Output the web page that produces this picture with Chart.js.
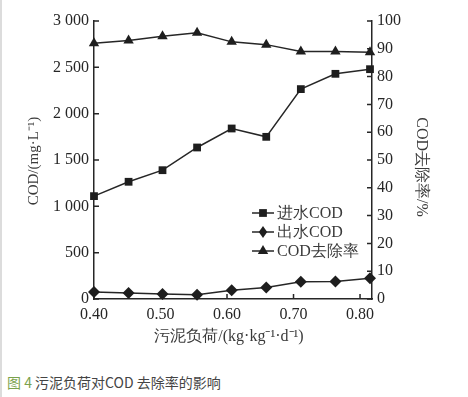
<!DOCTYPE html>
<html>
<head>
<meta charset="utf-8">
<script src="https://cdn.jsdelivr.net/npm/chart.js@4.4.1/dist/chart.umd.min.js"></script>
<style>
    html, body { margin: 0; padding: 0; background: #fff; }
    #page { position: relative; width: 468px; height: 397px; overflow: hidden; }
    #edge { position: absolute; left: 0; top: 0; width: 2px; height: 397px; background: #dcdcdc; }
    #wrap { position: absolute; left: 0; top: 0; width: 468px; height: 360px; }
    #caption {
        position: absolute; left: 7px; top: 372px;
        font: 14px "Noto Sans CJK SC", "Noto Sans", sans-serif; line-height: 20px;
        color: #444; white-space: nowrap;
    }
    #caption .fig { color: #7ba24c; }
</style>
</head>
<body>
<div id="page">
    <div id="wrap"><canvas id="codChart" width="468" height="360"></canvas></div>
    <div id="edge"></div>
    <div id="caption"><span class="fig">图 4</span> 污泥负荷对COD 去除率的影响</div>
</div>
<script>
// ---- данные ----
const sludgeLoad = [0.40, 0.452, 0.503, 0.555, 0.607, 0.659, 0.711, 0.763, 0.815];
const influentCOD = [1110, 1265, 1390, 1635, 1840, 1750, 2265, 2430, 2480];
const effluentCOD = [75, 65, 55, 45, 95, 125, 185, 190, 225];
const removalRate = [92, 93, 94.5, 95.8, 92.5, 91.5, 89, 89, 88.8];

const xTicks = [0.40, 0.50, 0.60, 0.70, 0.80];
const codTicks = [0, 500, 1000, 1500, 2000, 2500, 3000];
const rateTicks = [0, 10, 20, 30, 40, 50, 60, 70, 80, 90, 100];

const seriesNames = ['进水COD', '出水COD', 'COD去除率'];
const xTitle = '污泥负荷/(kg·kg⁻¹·d⁻¹)';
const yTitle = 'COD/(mg·L⁻¹)';
const y1Title = 'COD去除率/%';

const INK = '#262626';
const SOFT = '#3a3a3a';
const SERIF = '"Liberation Serif", "Times New Roman", serif';
const tickFont = { family: SERIF, size: 16 };

function toPoints(ys) {
    return ys.map((v, i) => ({ x: sludgeLoad[i], y: v }));
}

// маркер как у Chart.js, для легенды
function drawMarker(ctx, style, x, y, r) {
    ctx.beginPath();
    if (style === 'rect') {
        const s = r * Math.SQRT1_2;
        ctx.rect(x - s, y - s, 2 * s, 2 * s);
    } else if (style === 'rectRot') {
        ctx.moveTo(x, y - r);
        ctx.lineTo(x + r * 0.7, y);
        ctx.lineTo(x, y + r);
        ctx.lineTo(x - r * 0.7, y);
    } else {
        ctx.moveTo(x, y - r);
        ctx.lineTo(x + r * 0.866, y + r * 0.5);
        ctx.lineTo(x - r * 0.866, y + r * 0.5);
    }
    ctx.closePath();
    ctx.fill();
}

// внутренние засечки на осях
const innerTicks = {
    id: 'innerTicks',
    beforeDatasetsDraw(chart) {
        const { ctx, chartArea, scales } = chart;
        const len = 5;
        ctx.save();
        ctx.strokeStyle = INK;
        ctx.lineWidth = 1.5;
        ctx.beginPath();
        codTicks.forEach(v => {
            const y = scales.y.getPixelForValue(v);
            ctx.moveTo(chartArea.left, y);
            ctx.lineTo(chartArea.left + len, y);
        });
        rateTicks.forEach(v => {
            const y = scales.y1.getPixelForValue(v);
            ctx.moveTo(chartArea.right, y);
            ctx.lineTo(chartArea.right - len, y);
        });
        xTicks.forEach(v => {
            const x = scales.x.getPixelForValue(v);
            ctx.moveTo(x, chartArea.bottom);
            ctx.lineTo(x, chartArea.bottom - len);
        });
        ctx.stroke();
        ctx.restore();
    }
};

// подписи осей
const axisTitles = {
    id: 'axisTitles',
    afterDraw(chart) {
        const { ctx } = chart;
        ctx.save();
        ctx.fillStyle = SOFT;
        ctx.textAlign = 'center';
        ctx.textBaseline = 'middle';
        ctx.font = '15px ' + SERIF;
        ctx.translate(34, 161);
        ctx.rotate(-Math.PI / 2);
        ctx.fillText(yTitle, 0, 0);
        ctx.restore();

        ctx.save();
        ctx.fillStyle = SOFT;
        ctx.textAlign = 'center';
        ctx.textBaseline = 'middle';
        ctx.font = '16px ' + SERIF;
        ctx.translate(421, 167);
        ctx.rotate(Math.PI / 2);
        ctx.fillText(y1Title, 0, 0);
        ctx.restore();

        ctx.save();
        ctx.fillStyle = SOFT;
        ctx.textAlign = 'center';
        ctx.textBaseline = 'middle';
        ctx.font = '16px ' + SERIF;
        ctx.fillText(xTitle, 229, 337);
        ctx.restore();
    }
};

// легенда внутри области графика
const insideLegend = {
    id: 'insideLegend',
    afterDraw(chart) {
        const { ctx } = chart;
        const rows = [213, 232, 251];
        ctx.save();
        ctx.font = '16px ' + SERIF;
        ctx.textBaseline = 'middle';
        chart.data.datasets.forEach((ds, i) => {
            const y = rows[i];
            ctx.strokeStyle = INK;
            ctx.lineWidth = 1.5;
            ctx.beginPath();
            ctx.moveTo(252, y);
            ctx.lineTo(274, y);
            ctx.stroke();
            ctx.fillStyle = '#1e1e1e';
            drawMarker(ctx, ds.pointStyle, 263, y, ds.pointRadius);
            ctx.fillStyle = SOFT;
            ctx.fillText(ds.label, 277, y + 1);
        });
        ctx.restore();
    }
};

const common = {
    borderColor: INK,
    borderWidth: 1.5,
    pointBackgroundColor: '#1e1e1e',
    pointBorderColor: '#1e1e1e',
    pointBorderWidth: 0,
    tension: 0,
    clip: false,
    fill: false
};

new Chart(document.getElementById('codChart'), {
    type: 'line',
    data: {
        datasets: [
            { ...common, label: seriesNames[0], data: toPoints(influentCOD), yAxisID: 'y', pointStyle: 'rect', pointRadius: 5.5 },
            { ...common, label: seriesNames[1], data: toPoints(effluentCOD), yAxisID: 'y', pointStyle: 'rectRot', pointRadius: 6 },
            { ...common, label: seriesNames[2], data: toPoints(removalRate), yAxisID: 'y1', pointStyle: 'triangle', pointRadius: 6 }
        ]
    },
    options: {
        responsive: false,
        animation: false,
        layout: { padding: { top: 21, left: 0, right: 0, bottom: 0 } },
        plugins: { legend: { display: false }, tooltip: { enabled: false } },
        scales: {
            x: {
                type: 'linear', min: 0.40, max: 0.818, offset: false,
                afterBuildTicks: s => { s.ticks = xTicks.map(v => ({ value: v })); },
                afterFit: s => { s.height = 61; },
                grid: { display: false, drawTicks: false },
                border: { display: true, color: INK, width: 1.5 },
                ticks: { color: INK, font: tickFont, padding: 6, maxRotation: 0, callback: v => v.toFixed(2) }
            },
            y: {
                type: 'linear', position: 'left', min: 0, max: 3000,
                afterBuildTicks: s => { s.ticks = codTicks.map(v => ({ value: v })); },
                afterFit: s => { s.width = 94; },
                grid: { display: false, drawTicks: false },
                border: { display: true, color: INK, width: 1.5 },
                ticks: {
                    color: INK, font: tickFont, padding: 5,
                    callback: v => v >= 1000 ? Math.floor(v / 1000) + ' ' + String(v % 1000).padStart(3, '0') : String(v)
                }
            },
            y1: {
                type: 'linear', position: 'right', min: 0, max: 100,
                afterBuildTicks: s => { s.ticks = rateTicks.map(v => ({ value: v })); },
                afterFit: s => { s.width = 96; },
                grid: { display: false, drawTicks: false },
                border: { display: true, color: INK, width: 1.5 },
                ticks: { color: INK, font: tickFont, padding: 5 }
            }
        }
    },
    plugins: [innerTicks, axisTitles, insideLegend]
});
</script>
</body>
</html>
